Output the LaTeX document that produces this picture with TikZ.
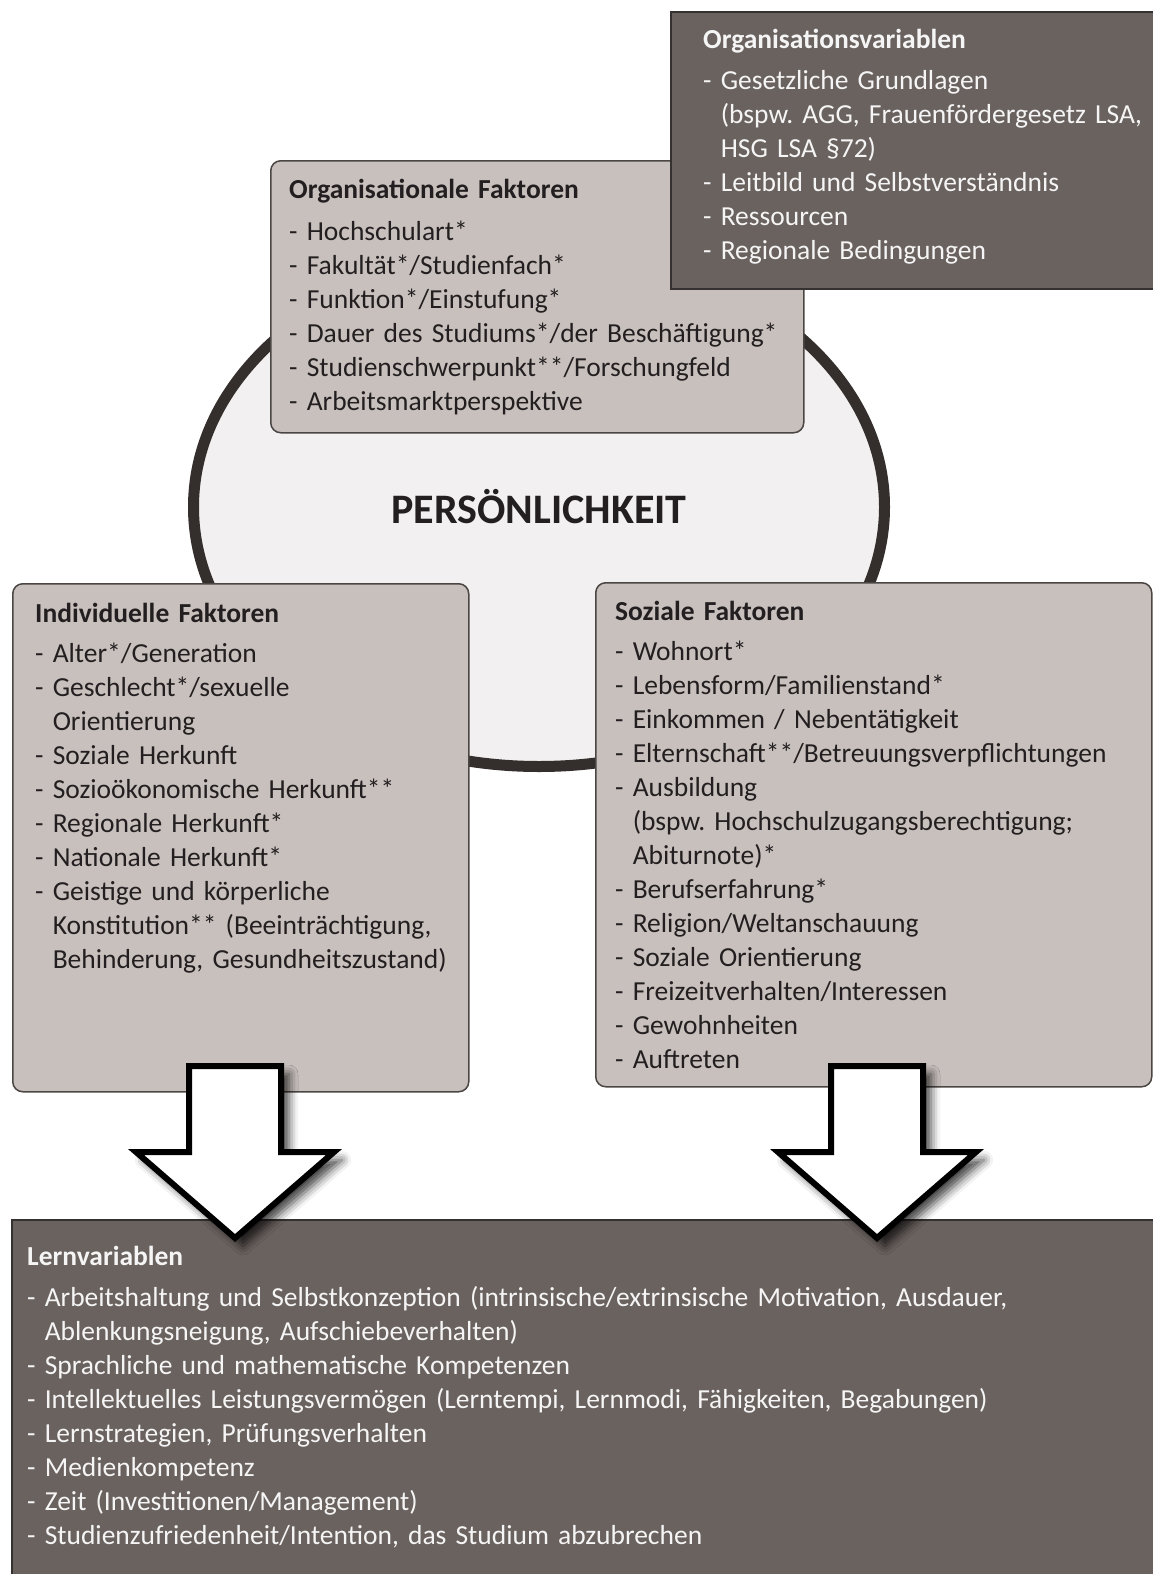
\documentclass[tikz,border=0pt]{standalone}
\usepackage{fontspec}
\setmainfont{Carlito}
\frenchspacing
\usetikzlibrary{shapes.geometric,calc,positioning,shadows.blur}

\definecolor{boxlight}{RGB}{200,192,189}
\definecolor{boxdark}{RGB}{106,98,95}
\definecolor{boxline}{RGB}{75,70,68}
\definecolor{ellfill}{RGB}{242,240,240}
\definecolor{ellline}{RGB}{52,47,45}
\definecolor{textdark}{RGB}{35,31,32}
\definecolor{textlight}{RGB}{246,245,245}

\newcommand{\cont}{\hphantom{-\ }}

\tikzset{
  lightbox/.style={draw=boxline, line width=1.5pt, fill=boxlight, rounded corners=10pt, anchor=north west, inner sep=0pt},
  darkbox/.style={draw=boxline!70!black, line width=1.5pt, fill=boxdark, anchor=north west, inner sep=0pt},
  listtxt/.style={anchor=base west, inner sep=0pt, align=left, font=\fontsize{27.5}{34}\selectfont},
  darktxt/.style={listtxt, text=textdark},
  lighttxt/.style={listtxt, text=textlight},
  persell/.style={ellipse, draw=ellline, line width=11pt, fill=ellfill, minimum width=691pt, minimum height=519pt, inner sep=0pt, text=textdark, font=\fontsize{42}{50}\selectfont\bfseries},
  blockarrow/.style={draw=black, line width=6pt, fill=white, miter limit=20, blur shadow={shadow xshift=8pt, shadow yshift=-8pt, shadow blur radius=9pt, shadow opacity=75}}
}

\begin{document}
\begin{tikzpicture}[x=1pt,y=-1pt]
      \useasboundingbox (0,0) rectangle (1153,1574);

      % Ellipse
      \node[persell] (pers) at (539,507) {PERSÖNLICHKEIT};

      % Organisationale Faktoren
      \node[lightbox, minimum width=533pt, minimum height=272pt] (orgfak) at (270,160) {};
      \node[darktxt, text width=520pt] (orgfak-txt) at ($(orgfak.north west) + (19,38)$) {%
        \textbf{Organisationale Faktoren}\\[8pt]
        - Hochschulart*\\
        - Fakultät*/Studienfach*\\
        - Funktion*/Einstufung*\\
        - Dauer des Studiums*/der Beschäftigung*\\
        - Studienschwerpunkt**/Forschungfeld\\
        - Arbeitsmarktperspektive};

      % Organisationsvariablen
      \node[darkbox, minimum width=500pt, minimum height=277pt] (orgvar) at (670,11) {};
      \node[lighttxt, text width=470pt] (orgvar-txt) at ($(orgvar.north west) + (33,37)$) {%
        \textbf{Organisationsvariablen}\\[7pt]
        - Gesetzliche Grundlagen\\
        \cont(bspw. AGG, Frauenfördergesetz LSA,\\
        \cont HSG LSA §72)\\
        - Leitbild und Selbstverständnis\\
        - Ressourcen\\
        - Regionale Bedingungen};

      % Individuelle Faktoren
      \node[lightbox, minimum width=456pt, minimum height=508pt] (indiv) at (12,583) {};
      \node[darktxt, text width=440pt] (indiv-txt) at ($(indiv.north west) + (23,39)$) {%
        \textbf{Individuelle Faktoren}\\[6pt]
        - Alter*/Generation\\
        - Geschlecht*/sexuelle\\
        \cont Orientierung\\
        - Soziale Herkunft\\
        - Sozioökonomische Herkunft**\\
        - Regionale Herkunft*\\
        - Nationale Herkunft*\\
        - Geistige und körperliche\\
        \cont Konstitution** (Beeinträchtigung,\\
        \cont Behinderung, Gesundheitszustand)};

      % Soziale Faktoren
      \node[lightbox, minimum width=556pt, minimum height=504pt] (sozial) at (595,582) {};
      \node[darktxt, text width=540pt] (sozial-txt) at ($(sozial.north west) + (20,38)$) {%
        \textbf{Soziale Faktoren}\\[6pt]
        - Wohnort*\\
        - Lebensform/Familienstand*\\
        - Einkommen / Nebentätigkeit\\
        - Elternschaft**/Betreuungsverpflichtungen\\
        - Ausbildung\\
        \cont(bspw. Hochschulzugangsberechtigung;\\
        \cont Abiturnote)*\\
        - Berufserfahrung*\\
        - Religion/Weltanschauung\\
        - Soziale Orientierung\\
        - Freizeitverhalten/Interessen\\
        - Gewohnheiten\\
        - Auftreten};

      % Lernvariablen
      \node[darkbox, minimum width=1160pt, minimum height=370pt] (lern) at (11,1219) {};
      \node[lighttxt, text width=1110pt] (lern-txt) at ($(lern.north west) + (16,46)$) {%
        \textbf{Lernvariablen}\\[7pt]
        - Arbeitshaltung und Selbstkonzeption (intrinsische/extrinsische Motivation, Ausdauer,\\
        \cont Ablenkungsneigung, Aufschiebeverhalten)\\
        - Sprachliche und mathematische Kompetenzen\\
        - Intellektuelles Leistungsvermögen (Lerntempi, Lernmodi, Fähigkeiten, Begabungen)\\
        - Lernstrategien, Prüfungsverhalten\\
        - Medienkompetenz\\
        - Zeit (Investitionen/Management)\\
        - Studienzufriedenheit/Intention, das Studium abzubrechen};

      % Block arrows into Lernvariablen
      \foreach \cx in {235,877} {
        \draw[blockarrow] (\cx-46,1066) -- (\cx+46,1066) -- (\cx+46,1152) -- (\cx+99,1152)
          -- (\cx,1238) -- (\cx-99,1152) -- (\cx-46,1152) -- cycle;
      }
    \end{tikzpicture}
\end{document}
